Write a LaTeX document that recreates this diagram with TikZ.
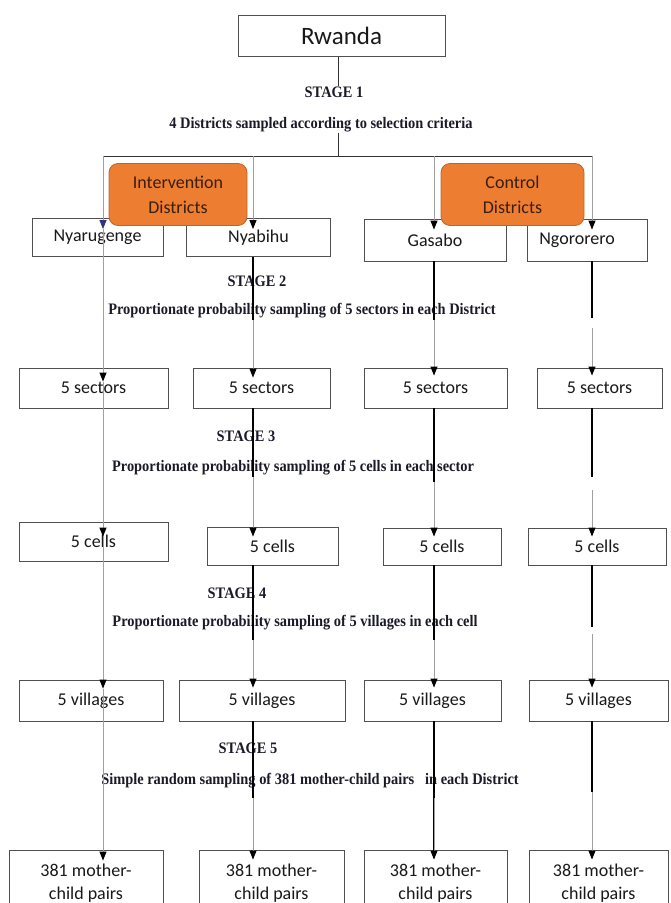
\documentclass[tikz,border=0pt]{standalone}
\usepackage{fontspec}
\setmainfont{Liberation Serif}
\newfontfamily\boxfont{Carlito}
\usepackage{graphicx}
\usetikzlibrary{arrows.meta}
\definecolor{orng}{HTML}{ED7D31}
\definecolor{orngb}{HTML}{B8672F}
\definecolor{lgray}{HTML}{A0A0A0}
\definecolor{bord}{HTML}{505050}
\definecolor{otext}{HTML}{3A1E0E}
\definecolor{stext}{HTML}{1A1A28}
\newcommand\stg[1]{\scalebox{0.9}[1]{\fontsize{16}{18}\selectfont\bfseries #1}}
\newcommand\tconn[6]{%
  \coordinate (sa) at (#3 |- 0,#4);
  \coordinate (sb) at (#3 |- 0,#5);
  \draw[blk] (#1.south -| #3) -- (sa);
  \draw[gry,arr] (sb) -- ([yshift=-#6pt]#2.north -| #3);}
\begin{document}
\begin{tikzpicture}[x=1pt,y=-1pt,
  box/.style={draw=bord,line width=0.9pt,fill=white,inner sep=0pt,
    font=\boxfont\fontsize{18}{20}\selectfont,text=black!90},
  mbox/.style={box,align=center,font=\boxfont\fontsize{18}{23}\selectfont},
  orbox/.style={draw=orngb,line width=0.8pt,fill=orng,rounded corners=9pt,
    inner sep=0pt,align=center,text=otext,font=\boxfont\fontsize{18}{25}\selectfont},
  stagetxt/.style={inner sep=0pt,text=stext},
  blk/.style={draw=black,line width=1.2pt},
  gry/.style={draw=lgray,line width=1pt},
  dk/.style={draw=black!80,line width=1pt},
  arr/.style={-{Triangle[width=7pt,length=9pt,color=black]}},
  arrb/.style={-{Triangle[width=7pt,length=9pt,color=black!50!blue!60!gray]}},
]
\useasboundingbox (0,0) rectangle (671,903);

% column coordinates
\coordinate (c1) at (103,0);
\coordinate (c2) at (253,0);
\coordinate (c3) at (434,0);
\coordinate (c4) at (592,0);
\coordinate (hl) at (338,156);

% top
\node[box,minimum width=207,minimum height=41,font=\boxfont\fontsize{25}{28}\selectfont] (rw) at (341.5,36) {Rwanda};
\node[stagetxt] (st1) at (334,92) {\stg{STAGE 1}};
\node[stagetxt] (d1) at (321,125) {\stg{4 Districts sampled according to selection criteria}};

% districts
\node[box,minimum width=131,minimum height=38] (nyar) at (97.5,237.5) {Nyarugenge};
\node[box,minimum width=144,minimum height=38] (nyab) at (258.5,237.5) {Nyabihu};
\node[box,minimum width=142,minimum height=42] (gas) at (435,240) {Gasabo};
\node[box,minimum width=120,minimum height=42] (ngo) at (587,240) {\hspace*{-20pt}Ngororero};

\node[orbox,minimum width=138,minimum height=62] (int) at (178,194.5) {Intervention\\Districts};
\node[orbox,minimum width=143,minimum height=62] (ctl) at (512.5,194.5) {Control\\Districts};

% stage 2
\node[stagetxt] (st2) at (257,281) {\stg{STAGE 2}};
\node[stagetxt] (d2) at (302,311) {\stg{Proportionate probability sampling of 5 sectors in each District}};
\node[box,minimum width=149,minimum height=40] (s1) at (93.5,388) {5 sectors};
\node[box,minimum width=137,minimum height=40] (s2) at (261.5,388) {5 sectors};
\node[box,minimum width=143,minimum height=40] (s3) at (435.5,388) {5 sectors};
\node[box,minimum width=125,minimum height=40] (s4) at (599.5,388) {5 sectors};

% stage 3
\node[stagetxt] (st3) at (246,436) {\stg{STAGE 3}};
\node[stagetxt] (d3) at (293,468) {\stg{Proportionate probability sampling of 5 cells in each sector}};
\node[box,minimum width=149,minimum height=39] (e1) at (93.5,541.5) {5 cells};
\node[box,minimum width=131,minimum height=38] (e2) at (272.5,546) {5 cells};
\node[box,minimum width=118,minimum height=37] (e3) at (442,546.5) {5 cells};
\node[box,minimum width=138,minimum height=37] (e4) at (597,546.5) {5 cells};

% stage 4
\node[stagetxt] (st4) at (237,593) {\stg{STAGE 4}};
\node[stagetxt] (d4) at (295,623) {\stg{Proportionate probability sampling of 5 villages in each cell}};
\node[box,minimum width=144,minimum height=41] (v1) at (91,700.5) {5 villages};
\node[box,minimum width=166,minimum height=41] (v2) at (262,700.5) {5 villages};
\node[box,minimum width=137,minimum height=41] (v3) at (432.5,700.5) {5 villages};
\node[box,minimum width=139,minimum height=41] (v4) at (598.5,700.5) {5 villages};

% stage 5
\node[stagetxt] (st5) at (248,748) {\stg{STAGE 5}};
\node[stagetxt] (d5) at (310,781) {\stg{Simple random sampling of 381 mother-child pairs\ \ \ in each District}};
\node[mbox,minimum width=154,minimum height=66] (m1) at (86,883) {381 mother-\\child pairs};
\node[mbox,minimum width=145,minimum height=66] (m2) at (271.5,883) {381 mother-\\child pairs};
\node[mbox,minimum width=143,minimum height=66] (m3) at (435.5,883) {381 mother-\\child pairs};
\node[mbox,minimum width=139,minimum height=66] (m4) at (598.5,883) {381 mother-\\child pairs};

% stage 1 connectors
\draw[dk] (rw.south -| hl) -- (st1.north -| hl);
\draw[dk] (d1.south -| hl) -- (hl);
\draw[dk] (c1 |- hl) -- (c4 |- hl);
\draw[gry,arrb] (c1 |- hl) -- ([yshift=-11pt]nyar.north -| c1);
\draw[gry,arr] (c2 |- hl) -- ([yshift=-11pt]nyab.north -| c2);
\draw[gry,arr] (c3 |- hl) -- ([yshift=-11pt]gas.north -| c3);
\draw[gry,arr] (c4 |- hl) -- ([yshift=-11pt]ngo.north -| c4);

% column 1 (continuous gray)
\draw[gry,arr] ([yshift=-11pt]nyar.north -| c1) -- ([yshift=-14pt]s1.north -| c1);
\draw[gry,arr] ([yshift=-14pt]s1.north -| c1) -- ([yshift=-15pt]e1.north -| c1);
\draw[gry,arr] ([yshift=-15pt]e1.north -| c1) -- ([yshift=-9pt]v1.north -| c1);
\draw[gry,arr] ([yshift=-9pt]v1.north -| c1) -- ([yshift=-11pt]m1.north -| c1);

% stage 2 connectors
\tconn{nyab}{s2}{c2}{320}{320}{10}
\tconn{gas}{s3}{c3}{320}{320}{8}
\tconn{ngo}{s4}{c4}{318}{328}{8}
% stage 3 connectors
\tconn{s2}{e2}{c2}{477}{477}{10}
\tconn{s3}{e3}{c3}{482}{482}{9}
\tconn{s4}{e4}{c4}{477}{490}{9}
% stage 4 connectors
\tconn{e2}{v2}{c2}{640}{640}{8}
\tconn{e3}{v3}{c3}{640}{640}{8}
\tconn{e4}{v4}{c4}{627}{634}{8}
% stage 5 connectors
\tconn{v2}{m2}{c2}{798}{798}{10}
\tconn{v3}{m3}{c3}{858}{798}{10}
\tconn{v4}{m4}{c4}{792}{792}{10}
\end{tikzpicture}
\end{document}
